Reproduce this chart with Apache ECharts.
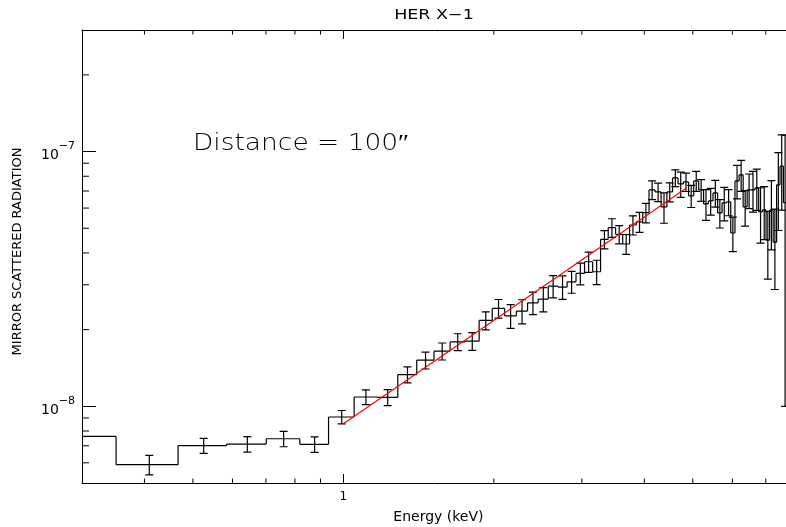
<!DOCTYPE html>
<html>
<head>
<meta charset="utf-8">
<script src="https://cdn.jsdelivr.net/npm/echarts@6/dist/echarts.min.js"></script>
<style>
  html, body { margin: 0; padding: 0; background: #fff; }
  #chart { width: 786px; height: 527px; }
</style>
</head>
<body>
<div id="chart"></div>
<script>
// Energy bin edges (keV) of the spectrum histogram
const binEdges = [
  0.234, 0.351, 0.467, 0.584, 0.701, 0.818, 0.934, 1.051, 1.168, 1.285,
  1.402, 1.518, 1.635, 1.752, 1.869, 1.985, 2.102, 2.219, 2.336, 2.453,
  2.570, 2.686, 2.803, 2.920, 3.037, 3.153, 3.270, 3.387, 3.504, 3.621,
  3.737, 3.854, 3.971, 4.088, 4.204, 4.321, 4.438, 4.555, 4.672, 4.788,
  4.905, 5.022, 5.139, 5.255, 5.372, 5.489, 5.606, 5.723, 5.839, 5.956,
  6.073, 6.190, 6.306, 6.423, 6.540, 6.657, 6.774, 6.890, 7.007, 7.124,
  7.241, 7.357, 7.474, 7.591, 7.708
];

// Mirror scattered radiation per bin
const fluxValues = [
  7.62e-9, 5.90e-9, 7.01e-9, 7.11e-9, 7.46e-9, 7.09e-9, 9.08e-9, 1.088e-8, 1.085e-8, 1.332e-8,
  1.517e-8, 1.646e-8, 1.790e-8, 1.801e-8, 2.173e-8, 2.422e-8, 2.265e-8, 2.364e-8, 2.548e-8, 2.635e-8,
  2.963e-8, 2.938e-8, 3.081e-8, 3.324e-8, 3.693e-8, 3.374e-8, 4.522e-8, 5.025e-8, 4.732e-8, 4.336e-8,
  5.149e-8, 5.292e-8, 5.756e-8, 7.07e-8, 6.94e-8, 6.06e-8, 6.94e-8, 7.88e-8, 7.46e-8, 7.60e-8,
  6.70e-8, 7.67e-8, 7.07e-8, 6.23e-8, 6.40e-8, 6.88e-8, 5.74e-8, 6.29e-8, 6.34e-8, 4.79e-8,
  7.67e-8, 8.10e-8, 6.06e-8, 7.07e-8, 7.07e-8, 7.20e-8, 5.79e-8, 5.90e-8, 4.49e-8, 5.90e-8,
  4.41e-8, 7.40e-8, 8.76e-8, 6.30e-8
];

// One-sigma uncertainties per bin
const fluxErrors = [
  0.50e-9, 0.52e-9, 0.48e-9, 0.50e-9, 0.52e-9, 0.49e-9, 0.55e-9, 0.73e-9, 0.78e-9, 0.96e-9,
  1.16e-9, 1.26e-9, 1.37e-9, 1.44e-9, 1.76e-9, 2.04e-9, 2.41e-9, 2.56e-9, 2.57e-9, 2.88e-9,
  2.97e-9, 3.11e-9, 3.03e-9, 3.25e-9, 3.35e-9, 3.70e-9, 3.73e-9, 4.23e-9, 3.87e-9, 3.88e-9,
  4.45e-9, 4.76e-9, 5.05e-9, 5.96e-9, 5.77e-9, 8.29e-9, 5.98e-9, 5.95e-9, 8.46e-9, 6.31e-9,
  6.69e-9, 6.91e-9, 6.91e-9, 8.64e-9, 7.72e-9, 8.31e-9, 7.30e-9, 9.48e-9, 7.43e-9, 7.41e-9,
  1.153e-8, 1.127e-8, 9.61e-9, 1.095e-8, 1.287e-8, 1.326e-8, 1.419e-8, 1.388e-8, 1.336e-8, 1.789e-8,
  1.536e-8, 2.50e-8, 2.87e-8, 5.30e-8
];

// Power-law fit end points [keV, flux]
const fitEnergies = [1.0, 4.85];
const fitFlux = [8.55e-9, 7.18e-8];

// Minor tick positions
const xMinorTicks = [0.4, 0.5, 0.6, 0.7, 0.8, 0.9, 2, 3, 4, 5, 6, 7];
const yMinorTicks = [6e-9, 7e-9, 8e-9, 9e-9, 2e-8, 3e-8, 4e-8, 5e-8, 6e-8, 7e-8, 8e-8, 9e-8, 2e-7];

const X_MIN = 0.3, X_MAX = 8;
const Y_MIN = 5e-9, Y_MAX = 3e-7;

const FONT = 'DejaVu Sans';
const ink = { stroke: '#000', lineWidth: 1.2, fill: null };

const binData = fluxValues.map((v, i) => [
  binEdges[i], binEdges[i + 1], v, fluxErrors[i], i > 0 ? fluxValues[i - 1] : v
]);

function isDecade(v) {
  const l = Math.log10(v);
  return Math.abs(l - Math.round(l)) < 1e-6;
}

function renderBin(params, api) {
  const lo = api.value(0), hi = api.value(1), v = api.value(2), e = api.value(3), prev = api.value(4);
  const a = api.coord([lo, v]);
  const b = api.coord([hi, v]);
  const mid = (lo + hi) / 2;
  const t = api.coord([mid, v + e]);
  const d = api.coord([mid, v - e]);
  const p = api.coord([lo, prev]);
  const cs = params.coordSys;
  return {
    type: 'group',
    clipPath: { type: 'rect', shape: { x: cs.x, y: cs.y, width: cs.width, height: cs.height } },
    children: [
      { type: 'line', shape: { x1: p[0], y1: p[1], x2: a[0], y2: a[1] }, style: ink },
      { type: 'line', shape: { x1: a[0], y1: a[1], x2: b[0], y2: b[1] }, style: ink },
      { type: 'line', shape: { x1: t[0], y1: t[1], x2: d[0], y2: d[1] }, style: ink },
      { type: 'line', shape: { x1: t[0] - 4, y1: t[1], x2: t[0] + 4, y2: t[1] }, style: ink },
      { type: 'line', shape: { x1: d[0] - 4, y1: d[1], x2: d[0] + 4, y2: d[1] }, style: ink }
    ]
  };
}

const tickStyle = { stroke: '#000', lineWidth: 1, fill: null };

function renderXMinor(params, api) {
  const v = api.value(0);
  const b = api.coord([v, Y_MIN]);
  const t = api.coord([v, Y_MAX]);
  return {
    type: 'group',
    children: [
      { type: 'line', shape: { x1: b[0], y1: b[1], x2: b[0], y2: b[1] - 4.5 }, style: tickStyle },
      { type: 'line', shape: { x1: t[0], y1: t[1], x2: t[0], y2: t[1] + 4.5 }, style: tickStyle }
    ]
  };
}

function renderYMinor(params, api) {
  const v = api.value(1);
  const l = api.coord([X_MIN, v]);
  return { type: 'line', shape: { x1: l[0], y1: l[1], x2: l[0] + 7, y2: l[1] }, style: tickStyle };
}

const axisLine = { show: true, onZero: false, lineStyle: { color: '#000', width: 1 } };

const chart = echarts.init(document.getElementById('chart'), null, { renderer: 'canvas' });
chart.setOption({
  animation: false,
  backgroundColor: '#fff',
  grid: { left: 82, top: 30, width: 712.8, height: 453, containLabel: false, outerBoundsMode: 'none' },
  xAxis: [
    {
      type: 'log', logBase: 10, min: X_MIN, max: X_MAX, position: 'bottom',
      name: 'Energy (keV)', nameLocation: 'middle', nameGap: 27,
      nameTextStyle: { fontFamily: FONT, fontSize: 14, color: '#000' },
      axisLine,
      axisTick: { show: true, inside: true, length: 9, lineStyle: { color: '#000', width: 1 } },
      axisLabel: {
        color: '#000', fontFamily: FONT, fontSize: 12, margin: 8,
        formatter: v => (isDecade(v) ? String(Math.round(v)) : '')
      },
      splitLine: { show: false }
    },
    {
      type: 'log', logBase: 10, min: X_MIN, max: X_MAX, position: 'top',
      axisLine,
      axisTick: { show: true, inside: true, length: 9, lineStyle: { color: '#000', width: 1 } },
      axisLabel: { show: false },
      splitLine: { show: false }
    }
  ],
  yAxis: [
    {
      type: 'log', logBase: 10, min: Y_MIN, max: Y_MAX, position: 'left',
      name: 'MIRROR SCATTERED RADIATION', nameLocation: 'middle', nameGap: 58, nameRotate: 90,
      nameTextStyle: { fontFamily: FONT, fontSize: 13, color: '#000', padding: [0, 0, 0, 10] },
      axisLine,
      axisTick: { show: true, inside: true, length: 14, lineStyle: { color: '#000', width: 1 } },
      axisLabel: {
        margin: 7,
        formatter: v => (isDecade(v) ? '{b|10}{s|\u2212' + (-Math.round(Math.log10(v))) + '}' : ''),
        rich: {
          b: { fontFamily: FONT, fontSize: 14, color: '#000', lineHeight: 22, verticalAlign: 'bottom' },
          s: { fontFamily: FONT, fontSize: 11, color: '#000', lineHeight: 22, verticalAlign: 'top' }
        }
      },
      splitLine: { show: false }
    }
  ],
  graphic: [
    {
      type: 'text', x: 434, y: 15, scaleX: 1.25,
      style: { text: 'HER X\u22121', fontFamily: FONT, fontSize: 14, fill: '#000', align: 'center', verticalAlign: 'middle' }
    },
    {
      type: 'text', x: 193, y: 144, scaleX: 1.15,
      style: { text: 'Distance = 100\u2033', fontFamily: FONT, fontSize: 23, fontWeight: 200, fill: '#000', align: 'left', verticalAlign: 'middle' }
    }
  ],
  series: [
    {
      name: 'spectrum', type: 'custom', renderItem: renderBin,
      xAxisIndex: 0, yAxisIndex: 0,
      encode: { x: 0, y: 2 },
      data: binData, z: 3
    },
    {
      name: 'power law fit', type: 'line',
      xAxisIndex: 0, yAxisIndex: 0,
      data: fitEnergies.map((e, i) => [e, fitFlux[i]]),
      showSymbol: false, symbol: 'none',
      lineStyle: { color: '#ff0000', width: 1.2 }, z: 4
    },
    {
      name: 'x minor ticks', type: 'custom', renderItem: renderXMinor,
      xAxisIndex: 0, yAxisIndex: 0, encode: { x: 0, y: 1 },
      data: xMinorTicks.map(v => [v, Y_MIN]), silent: true
    },
    {
      name: 'y minor ticks', type: 'custom', renderItem: renderYMinor,
      xAxisIndex: 0, yAxisIndex: 0, encode: { x: 0, y: 1 },
      data: yMinorTicks.map(v => [X_MIN, v]), silent: true
    }
  ]
});
</script>
</body>
</html>
